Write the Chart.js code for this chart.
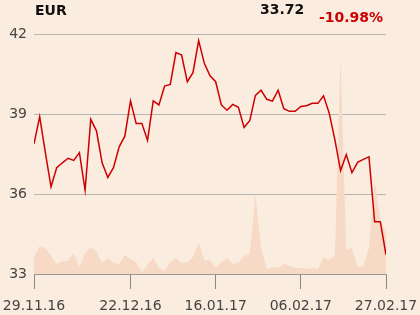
<!DOCTYPE html>
<html>
<head>
<meta charset="utf-8">
<script src="https://cdn.jsdelivr.net/npm/chart.js@4"></script>
<style>
    body { margin: 0; background: #fbece0; }
    #wrap { position: relative; width: 420px; height: 315px; background: #fbece0; }
    .hdr { position: absolute; font: bold 14px "DejaVu Sans", sans-serif; line-height: 16px; }
    #cur { left: 35px; top: 2px; color: #111; }
    #last { left: 260px; top: 1px; color: #111; }
    #chg { left: 319px; top: 9px; color: #cc0000; }
</style>
</head>
<body>
<div id="wrap">
    <canvas id="chart" width="420" height="315"></canvas>
    <div class="hdr" id="cur">EUR</div>
    <div class="hdr" id="last">33.72</div>
    <div class="hdr" id="chg">-10.98%</div>
</div>
<script>
// Cours de clôture (63 séances, 29.11.16 -> 27.02.17)
const price = [
    37.88, 38.90, 37.55, 36.27, 36.99, 37.17, 37.34, 37.26, 37.55, 36.14,
    38.80, 38.37, 37.17, 36.62, 36.99, 37.77, 38.17, 39.49, 38.64, 38.64,
    38.01, 39.49, 39.34, 40.05, 40.11, 41.30, 41.21, 40.21, 40.55, 41.75,
    40.90, 40.43, 40.21, 39.34, 39.14, 39.36, 39.25, 38.50, 38.75, 39.70,
    39.89, 39.55, 39.48, 39.89, 39.20, 39.10, 39.10, 39.28, 39.31, 39.40,
    39.40, 39.68, 39.03, 38.03, 36.88, 37.48, 36.80, 37.19, 37.30, 37.39,
    34.96, 34.96, 33.72
];

// Volumes (échelle relative)
const volume = [
    17, 28, 26, 18, 10, 13, 13, 21, 7, 21,
    27, 22, 11, 16, 11, 10, 19, 15, 12, 2,
    9, 16, 6, 3, 12, 16, 11, 12, 17, 31,
    14, 14, 6, 12, 16, 10, 11, 18, 20, 79,
    26, 5, 7, 6, 10, 8, 6, 6, 5, 6,
    5, 17, 14, 19, 217, 24, 26, 7, 8, 26,
    94, 55, 41
];

const tickIdx = [0, 17, 32, 47, 62];
const tickLabels = ['29.11.16', '22.12.16', '16.01.17', '06.02.17', '27.02.17'];
const yTicks = [33, 36, 39, 42];

const FONT = '"DejaVu Sans", sans-serif';

new Chart(document.getElementById('chart'), {
    type: 'line',
    data: {
        datasets: [{
            data: price.map((v, i) => ({ x: i, y: v })),
            borderColor: '#cc0000',
            borderWidth: 1.5,
            pointRadius: 0,
            tension: 0,
            yAxisID: 'y',
            order: 0
        }, {
            data: volume.map((v, i) => ({ x: i, y: v })),
            borderWidth: 0,
            backgroundColor: '#f7dac5',
            fill: 'origin',
            pointRadius: 0,
            tension: 0,
            yAxisID: 'y2',
            order: 1
        }]
    },
    options: {
        responsive: false,
        animation: false,
        devicePixelRatio: 1,
        layout: { padding: { left: 0, right: 34, top: 34, bottom: 0 } },
        plugins: { legend: { display: false }, tooltip: { enabled: false } },
        scales: {
            x: {
                type: 'linear',
                min: 0,
                max: price.length - 1,
                afterBuildTicks: (axis) => { axis.ticks = tickIdx.map(v => ({ value: v })); },
                afterFit: (s) => {
                    s.height = 41;
                    s.paddingLeft = 0;
                    s.paddingRight = 0;
                },
                ticks: {
                    callback: (v) => tickLabels[tickIdx.indexOf(v)],
                    color: '#444',
                    font: { family: FONT, size: 14 },
                    padding: 9,
                    maxRotation: 0,
                    autoSkip: false
                },
                grid: { drawOnChartArea: false, tickLength: 15, color: '#888' },
                border: { display: true, color: '#999' }
            },
            y: {
                min: 33,
                max: 42,
                afterBuildTicks: (axis) => { axis.ticks = yTicks.map(v => ({ value: v })); },
                afterFit: (s) => { s.width = 34; },
                ticks: {
                    color: '#444',
                    font: { family: FONT, size: 14 },
                    padding: 7
                },
                grid: { drawTicks: false, color: '#b5b5b5' },
                border: { display: false }
            },
            y2: {
                display: false,
                min: 0,
                max: 240
            }
        }
    }
});
</script>
</body>
</html>
